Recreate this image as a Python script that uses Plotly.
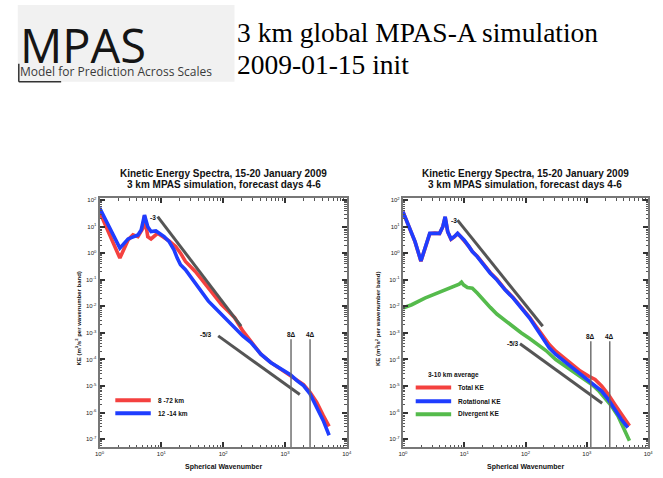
import plotly.graph_objects as go

W, H = 663, 478

# ---------------- data (log10 values) ----------------
# Left panel: two averaging ranges
left_red_name = "8 -72 km"
left_red_logk = [0.0, 0.329, 0.462, 0.541, 0.621, 0.700, 0.727, 0.780, 0.833, 0.939, 1.019, 1.125,
                 1.231, 1.310, 1.390, 1.469, 1.549, 1.655, 1.761, 1.867, 1.973, 2.080, 2.186, 2.318,
                 2.451, 2.610, 2.769, 2.928, 3.088, 3.194, 3.300, 3.406, 3.512, 3.618, 3.714]
left_red_logE = [1.564, -0.182, 0.504, 0.691, 0.628, 0.940, 1.414, 0.628, 0.541, 0.753, 0.628, 0.466,
                 0.254, 0.005, -0.307, -0.494, -0.681, -0.993, -1.304, -1.616, -1.928, -2.177, -2.426, -2.925,
                 -3.299, -3.798, -4.110, -4.359, -4.608, -4.771, -4.945, -5.232, -5.606, -6.105, -6.516]

left_blue_name = "12 -14 km"
left_blue_logk = [0.0, 0.329, 0.462, 0.541, 0.621, 0.674, 0.727, 0.780, 0.833, 0.912, 0.966, 1.045,
                  1.125, 1.204, 1.257, 1.310, 1.390, 1.469, 1.549, 1.655, 1.761, 1.867, 1.973, 2.080,
                  2.186, 2.318, 2.451, 2.610, 2.769, 2.928, 3.088, 3.194, 3.300, 3.406, 3.512, 3.618, 3.714]
left_blue_logE = [1.713, 0.192, 0.541, 0.628, 0.691, 0.878, 1.439, 1.002, 0.815, 0.840, 0.753, 0.628,
                  0.441, 0.130, -0.182, -0.431, -0.618, -0.868, -1.117, -1.491, -1.803, -2.052, -2.302, -2.551,
                  -2.800, -3.112, -3.362, -3.798, -4.110, -4.359, -4.571, -4.796, -4.983, -5.294, -5.793, -6.292, -6.853]

# Right panel: total / rotational / divergent KE
right_blue_logk = [0.000, 0.091, 0.198, 0.294, 0.358, 0.438, 0.518, 0.598, 0.651, 0.689, 0.731, 0.785,
                   0.838, 0.892, 0.945, 0.998, 1.078, 1.132, 1.212, 1.319, 1.425, 1.532, 1.666, 1.799,
                   1.933, 2.066, 2.173, 2.280, 2.387, 2.493, 2.627, 2.760, 2.894, 3.027, 3.134, 3.241,
                   3.348, 3.454, 3.561, 3.668]
right_blue_logE = [1.5625, 1.0625, 0.4375, -0.2875, 0.1875, 0.75, 0.75, 0.75, 1.0, 1.375, 0.8125, 0.5375,
                   0.625, 0.75, 0.625, 0.5, 0.25, 0.0625, -0.125, -0.4375, -0.75, -1.0, -1.375, -1.6875,
                   -2.0625, -2.4375, -2.8125, -3.1875, -3.5625, -3.8125, -4.0625, -4.3125, -4.5375, -4.7875, -5.0, -5.1875,
                   -5.5, -5.875, -6.25, -6.5625]

right_red_logk = [0.000, 0.091, 0.198, 0.294, 0.358, 0.438, 0.518, 0.598, 0.651, 0.689, 0.731, 0.785,
                  0.838, 0.892, 0.945, 0.998, 1.078, 1.132, 1.212, 1.319, 1.425, 1.532, 1.666, 1.799,
                  1.933, 2.066, 2.173, 2.280, 2.387, 2.493, 2.627, 2.760, 2.894, 3.027, 3.134, 3.241,
                  3.348, 3.454, 3.561, 3.695]
right_red_logE = [1.57, 1.06, 0.43, -0.30, 0.18, 0.74, 0.76, 0.74, 1.0, 1.36, 0.80, 0.53,
                  0.62, 0.74, 0.62, 0.49, 0.25, 0.07, -0.11, -0.42, -0.73, -0.98, -1.36, -1.67,
                  -2.04, -2.41, -2.76, -3.125, -3.4375, -3.6875, -3.9375, -4.1875, -4.4375, -4.625, -4.75, -5.0,
                  -5.3125, -5.6875, -6.0625, -6.5]

right_green_logk = [0.000, 0.144, 0.358, 0.518, 0.678, 0.838, 0.918, 0.956, 0.988, 1.052, 1.132, 1.212,
                    1.319, 1.425, 1.532, 1.666, 1.799, 1.933, 2.066, 2.200, 2.333, 2.493, 2.654, 2.814,
                    2.974, 3.081, 3.187, 3.294, 3.401, 3.508, 3.615, 3.695]
right_green_logE = [-2.0625, -1.9375, -1.6875, -1.5375, -1.375, -1.225, -1.1625, -1.0875, -1.1875, -1.2875, -1.3125, -1.5,
                    -1.7875, -2.0375, -2.2875, -2.5375, -2.7875, -3.0, -3.2125, -3.4375, -3.6625, -4.0, -4.25, -4.5,
                    -4.75, -4.9375, -5.1625, -5.4375, -5.75, -6.125, -6.625, -7.0625]
right_names = ["Total KE", "Rotational KE", "Divergent KE"]
right_legend_title = "3-10 km average"

# reference slopes (log10 endpoints)
left_m3_logk, left_m3_logE = [0.94, 2.29], [1.38, -2.74]
left_m53_logk, left_m53_logE = [1.92, 3.24], [-3.11, -5.32]
right_m3_logk, right_m3_logE = [0.89, 2.28], [1.25, -2.75]
right_m53_logk, right_m53_logE = [1.91, 3.25], [-3.41, -5.65]

# grid-length markers (log10 wavenumber)
left_delta_logk = [3.098, 3.406]
right_delta_logk = [3.065, 3.374]
delta_labels = ["8Δ", "4Δ"]

x_decades = [0, 1, 2, 3, 4]
y_decades = [-7, -6, -5, -4, -3, -2, -1, 0, 1, 2]

title1 = "Kinetic Energy Spectra, 15-20 January 2009"
title2 = "3 km MPAS simulation, forecast days 4-6"
xlab = "Spherical Wavenumber"
ylab = "KE (m<sup>3</sup>/s<sup>2</sup> per wavenumber band)"

# ---------------- styling ----------------
RED, BLUE, GREEN, GRAY = "#f4413f", "#1f3dff", "#55bb4c", "#555555"
LW = 3.6
YMIN, YMAX = -7.3, 2.075

def p(v):
    return [10 ** a for a in v]

fig = go.Figure()

def curve(lk, le, color, xa, ya, width=LW):
    fig.add_trace(go.Scatter(x=p(lk), y=p(le), mode="lines", xaxis=xa, yaxis=ya,
                             line=dict(color=color, width=width), showlegend=False, hoverinfo="skip"))

# left
curve(left_red_logk, left_red_logE, RED, "x", "y")
curve(left_blue_logk, left_blue_logE, BLUE, "x", "y")
curve(left_m3_logk, left_m3_logE, GRAY, "x", "y", 3)
curve(left_m53_logk, left_m53_logE, GRAY, "x", "y", 3)
for lk in left_delta_logk:
    curve([lk, lk], [-3.24, YMIN], "#666666", "x", "y", 1.4)
# right
curve(right_green_logk, right_green_logE, GREEN, "x2", "y2")
curve(right_red_logk, right_red_logE, RED, "x2", "y2")
curve(right_blue_logk, right_blue_logE, BLUE, "x2", "y2")
curve(right_m3_logk, right_m3_logE, GRAY, "x2", "y2", 3)
curve(right_m53_logk, right_m53_logE, GRAY, "x2", "y2", 3)
for lk in right_delta_logk:
    curve([lk, lk], [-3.31, YMIN], "#666666", "x2", "y2", 1.4)

def px(x):
    return x / W

def py(y):
    return 1 - y / H

minor_x = [m * 10 ** e for e in range(0, 4) for m in range(2, 10)]
minor_y = [m * 10 ** e for e in range(-8, 2) for m in range(2, 10)]

def xaxis(domain):
    return dict(type="log", domain=domain, range=[0, 4], tickmode="array",
                tickvals=[10 ** d for d in x_decades],
                ticktext=["10<sup>%d</sup>" % d for d in x_decades],
                ticks="inside", ticklen=5, tickwidth=1.5, tickcolor="#333",
                showline=True, linecolor="#777", linewidth=2, mirror="allticks",
                showgrid=False, zeroline=False,
                tickfont=dict(family="Liberation Sans", size=6, color="#222"),
                minor=dict(tickmode="array", tickvals=minor_x, ticks="inside", ticklen=2.5,
                           tickwidth=1, tickcolor="#555", showgrid=False))

def yaxis(anchor):
    return dict(type="log", domain=[py(447), py(197)], range=[YMIN, YMAX], anchor=anchor,
                tickmode="array", tickvals=[10 ** d for d in y_decades],
                ticktext=["10<sup>%d</sup>" % d for d in y_decades],
                ticks="inside", ticklen=5, tickwidth=1.5, tickcolor="#333",
                showline=True, linecolor="#777", linewidth=2, mirror="allticks",
                showgrid=False, zeroline=False,
                tickfont=dict(family="Liberation Sans", size=6, color="#222"),
                minor=dict(tickmode="array", tickvals=minor_y, ticks="inside", ticklen=2.5,
                           tickwidth=1, tickcolor="#555", showgrid=False))

ann = []
def text(x, y, s, size, family="Liberation Sans", color="#111", xanchor="center", yanchor="middle",
         xref="paper", yref="paper", angle=0):
    ann.append(dict(x=x, y=y, text=s, showarrow=False, xref=xref, yref=yref, xanchor=xanchor,
                    yanchor=yanchor, textangle=angle, font=dict(family=family, size=size, color=color)))

# header
text(px(234), py(31), "3 km global MPAS-A simulation", 27.5, family="Liberation Serif", color="#000", xanchor="left")
text(px(234), py(63), "2009-01-15 init", 27.5, family="Liberation Serif", color="#000", xanchor="left")
text(px(13), py(43), "MPAS", 47, family="Open Sans", color="#151515", xanchor="left")
text(px(13), py(70), "Model for Prediction Across Scales", 12, family="Open Sans", color="#3a3a3a", xanchor="left")

# panel titles and axis labels
for cx, ylab_x in [(222, 74), (528, 378)]:
    text(px(cx), py(172), "<b>" + title1 + "</b>", 10)
    text(px(cx), py(183), "<b>" + title2 + "</b>", 10)
    text(px(cx), py(467), "<b>" + xlab + "</b>", 7)
    text(px(ylab_x), py(318), "<b>" + ylab + "</b>", 6, angle=-90)

# slope labels and delta labels (log coords for annotations on log axes)
text(0.86, 1.35, "<b>-3</b>", 6.5, xref="x", yref="y")
text(1.72, -3.05, "<b>-5/3</b>", 6.5, xref="x", yref="y")
text(0.83, 1.22, "<b>-3</b>", 6.5, xref="x2", yref="y2")
text(1.80, -3.38, "<b>-5/3</b>", 6.5, xref="x2", yref="y2")
for lk, s in zip(left_delta_logk, delta_labels):
    text(lk, -3.05, "<b>" + s + "</b>", 6.5, xref="x", yref="y")
for lk, s in zip(right_delta_logk, delta_labels):
    text(lk, -3.12, "<b>" + s + "</b>", 6.5, xref="x2", yref="y2")

shapes = []
# logo background
shapes.append(dict(type="rect", xref="paper", yref="paper", x0=px(13), x1=px(233), y0=py(80), y1=py(3),
                   fillcolor="#f1f1f1", line=dict(width=0), layer="below"))
shapes.append(dict(type="line", xref="paper", yref="paper", x0=px(14), x1=px(14), y0=py(80), y1=py(62),
                   line=dict(color="#333", width=1.5)))
shapes.append(dict(type="line", xref="paper", yref="paper", x0=px(14), x1=px(57), y0=py(80), y1=py(80),
                   line=dict(color="#333", width=1.5)))

# legends
def leg_item(x0, x1, y, color, label):
    shapes.append(dict(type="line", xref="paper", yref="paper", x0=px(x0), x1=px(x1), y0=py(y), y1=py(y),
                       line=dict(color=color, width=4)))
    text(px(x1 + 5), py(y), "<b>" + label + "</b>", 6.5, xanchor="left")

leg_item(112, 148, 400, RED, left_red_name)
leg_item(112, 148, 413, BLUE, left_blue_name)
text(px(427), py(375), "<b>" + right_legend_title + "</b>", 6.5, xanchor="left")
leg_item(417, 453, 387, RED, right_names[0])
leg_item(417, 453, 401, BLUE, right_names[1])
leg_item(417, 453, 414, GREEN, right_names[2])

fig.update_layout(
    width=W, height=H, margin=dict(l=0, r=0, t=0, b=0),
    paper_bgcolor="white", plot_bgcolor="white",
    xaxis=xaxis([px(96), px(347)]), yaxis=yaxis("x"),
    xaxis2=dict(xaxis([px(404), px(653)]), anchor="y2"), yaxis2=yaxis("x2"),
    annotations=ann, shapes=shapes, showlegend=False,
)
fig.update_layout(xaxis=dict(anchor="y"))

fig.write_html("out.html", config={"displayModeBar": False},
               post_script="document.body.style.margin='0';document.body.style.overflow='hidden';")
